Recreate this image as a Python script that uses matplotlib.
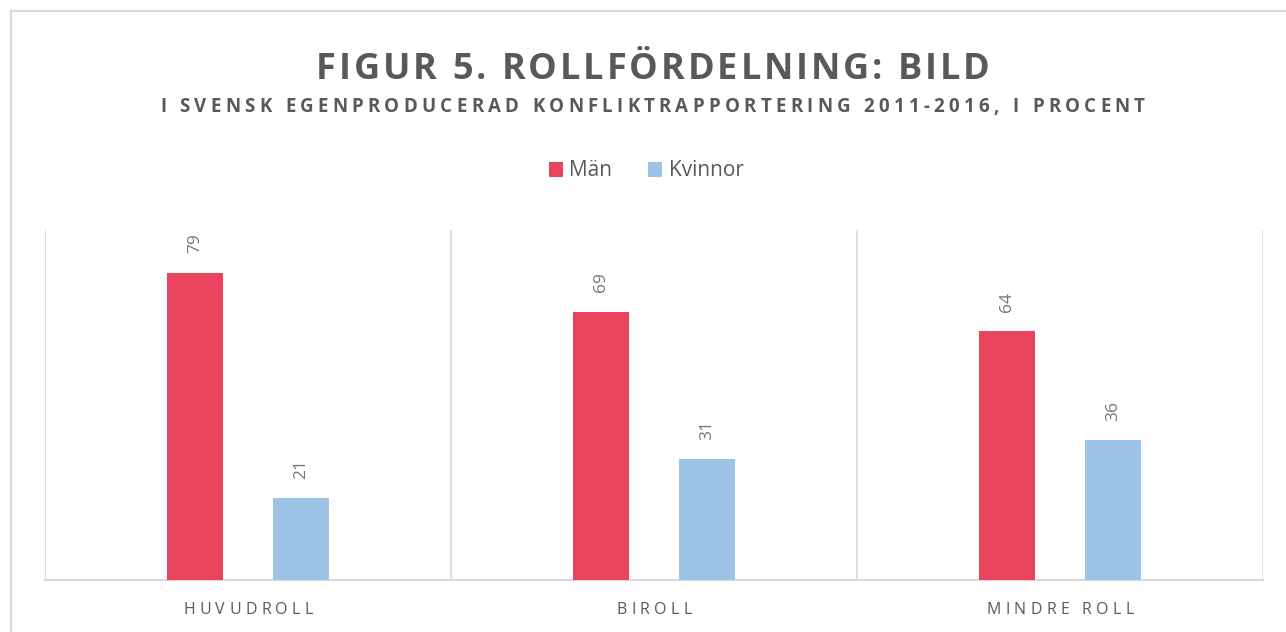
import matplotlib
matplotlib.use('Agg')
import matplotlib.pyplot as plt
from matplotlib.font_manager import FontProperties
from matplotlib.lines import Line2D
from matplotlib.patches import Patch
import numpy as np

# -----------------------------
# Data
# -----------------------------
categories = ['HUVUDROLL', 'BIROLL', 'MINDRE ROLL']
series_names = ['Män', 'Kvinnor']
man_values = [79, 69, 64]
kvinnor_values = [21, 31, 36]

title = 'FIGUR 5. ROLLFÖRDELNING: BILD'
subtitle = 'I SVENSK EGENPRODUCERAD KONFLIKTRAPPORTERING 2011-2016, I PROCENT'

RED = '#E9435E'
BLUE = '#9DC3E6'
TEXT = '#595959'
GRID = '#D9D9D9'
FONT = 'Open Sans'

W, H = 1286, 632
fig = plt.figure(figsize=(W / 100, H / 100), dpi=100)
renderer = fig.canvas.get_renderer()


def text_width(s, prop):
    if s == ' ':
        a = renderer.get_text_width_height_descent('x x', prop, ismath=False)[0]
        b = renderer.get_text_width_height_descent('xx', prop, ismath=False)[0]
        return a - b
    return renderer.get_text_width_height_descent(s, prop, ismath=False)[0]


def spaced_text(s, xc, y_base, size, weight='normal', color=TEXT, width_px=None, spacing_px=0):
    # letter-spaced text, positions in pixels from the top-left
    prop = FontProperties(family=FONT, size=size, weight=weight)
    widths = [text_width(c, prop) for c in s]
    if width_px is not None:
        spacing_px = (width_px - sum(widths)) / (len(s) - 1)
    total = sum(widths) + spacing_px * (len(s) - 1)
    x = xc - total / 2
    for c, w in zip(s, widths):
        if c != ' ':
            fig.text(x / W, 1 - y_base / H, c, fontproperties=prop, color=color,
                     ha='left', va='baseline')
        x += w + spacing_px


# -----------------------------
# Outer frame
# -----------------------------
fig.add_artist(Line2D([11 / W, 1], [1 - 11 / H, 1 - 11 / H], color=GRID, lw=1.5))
fig.add_artist(Line2D([11 / W, 11 / W], [0, 1 - 11 / H], color=GRID, lw=1.5))

# -----------------------------
# Bars
# -----------------------------
ax = fig.add_axes([45 / W, (H - 580) / H, (1263 - 45) / W, 350 / H])
x = np.arange(len(categories))
bw = 0.138
off = 0.13
bars_m = ax.bar(x - off, man_values, bw, color=RED, zorder=3)
bars_k = ax.bar(x + off, kvinnor_values, bw, color=BLUE, zorder=3)

ax.set_xlim(-0.5, len(categories) - 0.5)
ax.set_ylim(0, 90)
ax.set_yticks([])
ax.set_xticks([])
ax.set_xticks(np.arange(len(categories) + 1) - 0.5, minor=True)
ax.tick_params(which='both', length=0, labelbottom=False)
ax.grid(which='minor', axis='x', color=GRID, lw=1.2)
for side in ['top', 'right', 'left']:
    ax.spines[side].set_visible(False)
ax.spines['bottom'].set_color(GRID)
ax.spines['bottom'].set_linewidth(1.5)

for bars in (bars_m, bars_k):
    for b in bars:
        h = b.get_height()
        ax.annotate(f"{h:.0f}", (b.get_x() + b.get_width() / 2, h),
                    xytext=(0, 14), textcoords='offset points',
                    rotation=90, ha='center', va='bottom',
                    fontsize=12.5, color='#767676', family=FONT)

# category labels with letter spacing
for i, cat in enumerate(categories):
    px = ax.transData.transform((i, 0))[0]
    spaced_text(cat, px, 614, 11.5, spacing_px=4.3)

# -----------------------------
# Titles and legend
# -----------------------------
spaced_text(title, 653, 79, 26, weight='bold', width_px=674)
spaced_text(subtitle, 652.5, 112, 13.5, weight='bold', width_px=985)

fig.legend(handles=[Patch(facecolor=RED, label=series_names[0]),
                    Patch(facecolor=BLUE, label=series_names[1])],
           loc='center', bbox_to_anchor=(646 / W, 1 - 171 / H), ncol=2,
           frameon=False, prop=FontProperties(family=FONT, size=15),
           labelcolor=TEXT, handlelength=0.7, handleheight=0.7,
           handletextpad=0.3, columnspacing=1.7)

fig.savefig('out.png', dpi=100)
